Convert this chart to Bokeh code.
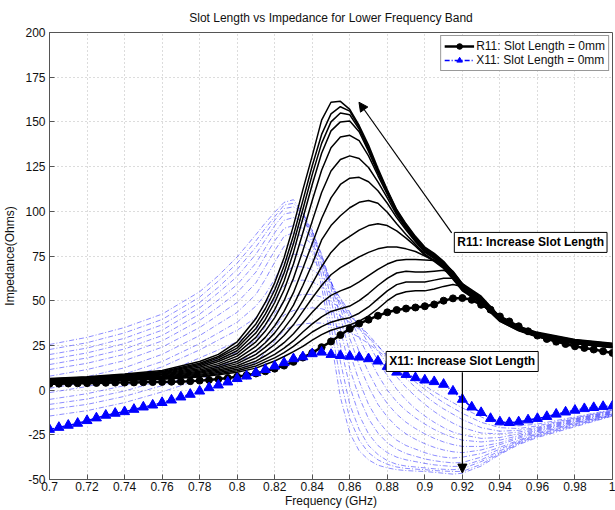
from bokeh.plotting import figure
from bokeh.models import Label, Arrow, NormalHead, Range1d, FixedTicker, PrintfTickFormatter
from bokeh.embed import file_html
from bokeh.resources import INLINE

FONT = "Liberation Sans"

# ---------------- data ----------------
x_ticks = [0.7, 0.72, 0.74, 0.76, 0.78, 0.8, 0.82, 0.84, 0.86, 0.88, 0.9, 0.92, 0.94, 0.96, 0.98, 1.0]
y_ticks = [-50, -25, 0, 25, 50, 75, 100, 125, 150, 175, 200]

freq_fine = [0.700, 0.705, 0.710, 0.715, 0.720, 0.725, 0.730, 0.735, 0.740, 0.745,
             0.750, 0.755, 0.760, 0.765, 0.770, 0.775, 0.780, 0.785, 0.790, 0.795,
             0.800, 0.805, 0.810, 0.815, 0.820, 0.825, 0.830, 0.835, 0.840, 0.845,
             0.850, 0.855, 0.860, 0.865, 0.870, 0.875, 0.880, 0.885, 0.890, 0.895,
             0.900, 0.905, 0.910, 0.915, 0.920, 0.925, 0.930, 0.935, 0.940, 0.945,
             0.950, 0.955, 0.960, 0.965, 0.970, 0.975, 0.980, 0.985, 0.990, 0.995,
             1.000]

r11_base = [3.5, 3.6, 3.7, 3.8, 3.9, 4.0, 4.1, 4.2, 4.2, 4.3,
            4.4, 4.5, 4.6, 4.7, 4.8, 5.0, 5.3, 5.7, 6.2, 6.8,
            7.5, 8.3, 9.3, 10.5, 12.0, 13.7, 15.8, 18.2, 20.8, 24.0,
            27.2, 30.8, 34.3, 37.2, 39.4, 41.6, 43.5, 44.8, 45.6, 46.2,
            46.9, 47.9, 50.0, 51.3, 51.5, 50.5, 47.7, 45.0, 41.2, 38.4,
            35.7, 32.9, 30.5, 28.6, 27.1, 25.8, 24.5, 23.6, 22.7, 21.7,
            20.8]

x11_base = [-22.0, -20.9, -19.7, -18.6, -17.1, -15.6, -14.1, -13.0, -12.1, -10.8,
            -9.5, -8.4, -7.0, -5.6, -3.9, -2.4, -0.6, 1.3, 2.8, 4.5,
            6.4, 7.8, 9.7, 11.5, 13.4, 15.3, 17.5, 18.6, 20.3, 21.2,
            19.9, 19.3, 18.9, 18.4, 17.5, 16.2, 13.2, 10.0, 8.7, 6.9,
            5.6, 4.7, 3.2, -0.6, -5.2, -9.5, -12.6, -15.9, -17.8, -18.2,
            -17.8, -16.7, -15.9, -14.8, -13.5, -12.3, -11.3, -10.4, -9.8, -9.2,
            -8.9]

freq_c = [0.70, 0.72, 0.74, 0.76, 0.78, 0.79, 0.80, 0.81, 0.815, 0.82,
          0.825, 0.83, 0.835, 0.84, 0.845, 0.85, 0.855, 0.86, 0.865, 0.87,
          0.875, 0.88, 0.885, 0.89, 0.895, 0.90, 0.905, 0.91, 0.915, 0.92,
          0.93, 0.94, 0.95, 0.96, 0.98, 1.00]

# R11 for increasing slot length (s01 smallest ... s14 largest)
r11_s01 = [4.0, 4.6, 5.3, 6.0, 7.3, 8.6, 10.0, 12.3, 14.3, 16.3, 18.8, 21.5, 24.5, 28.0, 31.0, 33.5, 35.0, 36.5, 38.5, 41.5, 45.5, 50.0, 53.5, 55.0, 55.5, 55.5, 56.5, 58.0, 59.0, 58.0, 50.5, 40.0, 34.2, 30.7, 26.8, 24.6]
r11_s02 = [4.2, 4.8, 5.6, 6.3, 7.8, 9.2, 10.8, 13.5, 15.8, 18.0, 21.0, 24.5, 28.5, 32.5, 35.5, 38.0, 39.5, 40.5, 43.0, 46.5, 51.0, 55.5, 59.0, 60.5, 60.5, 60.5, 61.5, 62.5, 62.5, 59.5, 50.0, 39.5, 33.9, 30.4, 26.5, 24.3]
r11_s03 = [4.3, 5.0, 5.8, 6.6, 8.3, 9.8, 11.6, 14.8, 17.3, 20.0, 23.5, 27.5, 32.5, 37.0, 41.0, 44.0, 45.5, 47.0, 50.0, 54.0, 58.5, 62.5, 65.5, 66.5, 66.0, 66.0, 66.5, 67.0, 65.0, 59.0, 49.5, 39.0, 33.6, 30.1, 26.2, 24.0]
r11_s04 = [4.5, 5.1, 6.0, 6.9, 8.8, 10.5, 12.6, 16.2, 19.2, 22.5, 26.5, 31.5, 37.5, 43.5, 49.0, 53.0, 55.5, 57.5, 60.5, 64.0, 67.5, 70.5, 72.5, 73.0, 73.0, 72.8, 72.5, 71.0, 66.5, 59.5, 49.5, 38.8, 33.4, 29.9, 26.0, 23.8]
r11_s05 = [4.6, 5.3, 6.2, 7.2, 9.4, 11.2, 13.6, 18.0, 21.5, 25.5, 30.5, 36.5, 44.0, 51.5, 58.5, 64.5, 68.5, 71.5, 74.5, 77.0, 79.0, 80.0, 80.0, 79.0, 77.5, 75.0, 72.5, 69.0, 63.0, 56.0, 48.5, 38.4, 33.2, 29.7, 25.9, 23.7]
r11_s06 = [4.8, 5.6, 6.5, 7.6, 10.0, 12.0, 14.8, 20.0, 24.0, 28.5, 34.5, 41.5, 50.0, 59.5, 69.0, 77.0, 82.5, 86.0, 89.5, 92.0, 93.0, 92.0, 89.0, 85.0, 80.5, 75.5, 72.0, 68.0, 62.0, 55.5, 48.5, 38.6, 33.4, 29.9, 26.1, 23.9]
r11_s07 = [5.0, 5.8, 6.8, 8.0, 10.6, 12.8, 16.0, 22.0, 26.5, 32.0, 39.0, 47.5, 58.5, 70.5, 84.0, 92.0, 97.5, 102.0, 105.0, 106.0, 104.5, 99.5, 93.0, 87.0, 81.5, 76.0, 72.5, 68.5, 62.5, 56.0, 49.0, 38.9, 33.7, 30.2, 26.3, 24.1]
r11_s08 = [5.2, 6.0, 7.1, 8.4, 11.3, 13.8, 17.5, 24.5, 29.5, 36.0, 44.0, 54.5, 68.0, 82.0, 96.0, 107.5, 115.0, 118.5, 119.0, 116.5, 111.5, 104.5, 96.5, 89.5, 83.0, 77.0, 73.5, 69.0, 63.0, 56.5, 49.5, 39.2, 34.0, 30.5, 26.6, 24.4]
r11_s09 = [5.4, 6.3, 7.4, 8.8, 12.0, 14.8, 19.0, 27.0, 33.0, 40.5, 50.0, 62.5, 78.0, 94.5, 110.5, 122.5, 129.0, 131.0, 129.5, 124.5, 116.5, 107.5, 98.0, 90.5, 83.5, 77.5, 74.0, 69.5, 63.5, 57.0, 50.0, 39.5, 34.3, 30.8, 26.8, 24.7]
r11_s10 = [5.6, 6.6, 7.7, 9.2, 12.8, 16.0, 20.5, 29.5, 36.5, 45.0, 56.0, 70.5, 88.0, 106.0, 123.0, 135.5, 141.5, 142.5, 139.5, 131.0, 120.0, 109.5, 99.0, 91.0, 84.0, 78.0, 74.5, 70.0, 64.0, 57.5, 50.5, 39.8, 34.6, 31.1, 27.1, 25.0]
r11_s11 = [5.8, 6.8, 8.0, 9.6, 13.6, 17.0, 22.0, 32.0, 39.5, 49.0, 61.0, 77.0, 96.0, 115.0, 132.5, 145.0, 150.0, 150.5, 144.5, 133.5, 121.5, 110.5, 99.5, 91.5, 84.5, 78.5, 75.0, 70.5, 64.5, 58.0, 51.0, 40.1, 34.9, 31.4, 27.4, 25.3]
r11_s12 = [6.0, 7.0, 8.3, 10.0, 14.3, 18.0, 23.5, 34.5, 42.5, 52.5, 65.5, 82.0, 101.0, 120.5, 138.0, 150.0, 155.0, 154.0, 146.0, 134.5, 122.5, 111.0, 100.0, 92.0, 85.0, 79.0, 75.5, 71.0, 65.0, 58.5, 51.5, 40.4, 35.2, 31.7, 27.7, 25.6]
r11_s13 = [6.2, 7.2, 8.6, 10.4, 15.0, 18.8, 25.0, 37.0, 45.5, 56.0, 69.5, 86.5, 106.0, 125.5, 143.0, 154.5, 158.5, 156.0, 147.0, 135.5, 123.0, 111.5, 100.5, 92.5, 85.5, 79.5, 76.0, 71.5, 65.5, 59.0, 52.0, 40.7, 35.5, 32.0, 28.0, 25.9]
r11_s14 = [6.5, 7.5, 9.0, 11.0, 16.0, 20.0, 27.0, 40.0, 49.0, 60.0, 74.0, 92.0, 112.0, 131.0, 151.0, 161.0, 161.5, 157.0, 148.0, 137.0, 124.0, 112.0, 101.0, 93.0, 86.0, 80.0, 76.5, 72.0, 66.0, 59.5, 52.5, 41.0, 35.8, 32.3, 28.3, 26.2]

# X11 for increasing slot length (s01 smallest ... s14 largest)
x11_s01 = [-14.5, -11.5, -7.0, -1.0, 6.0, 9.5, 11.5, 15.5, 21.0, 27.5, 33.5, 36.0, 37.0, 37.5, 37.5, 36.5, 35.0, 32.5, 29.5, 26.0, 22.0, 18.0, 14.0, 10.0, 6.0, 2.5, -1.0, -4.0, -7.0, -10.0, -15.0, -19.5, -20.0, -19.0, -15.0, -10.9]
x11_s02 = [-10.8, -8.0, -3.5, 2.5, 10.0, 13.5, 16.0, 20.0, 27.0, 34.5, 42.0, 44.5, 45.5, 46.0, 45.5, 44.0, 41.5, 38.0, 34.0, 29.5, 24.5, 19.5, 14.5, 9.5, 4.5, 0.5, -3.5, -7.0, -10.0, -13.0, -18.0, -21.0, -21.5, -20.0, -15.5, -11.2]
x11_s03 = [-8.0, -5.0, -0.5, 5.5, 13.5, 17.5, 21.0, 28.0, 35.5, 43.0, 50.0, 52.5, 53.5, 53.5, 52.0, 49.5, 46.0, 41.5, 36.5, 31.0, 25.0, 18.5, 12.5, 6.5, 1.5, -3.0, -7.0, -10.5, -13.5, -16.5, -21.0, -23.0, -22.5, -20.8, -15.9, -11.5]
x11_s04 = [-5.2, -2.0, 2.5, 9.0, 18.0, 22.5, 27.0, 33.5, 42.5, 51.0, 58.5, 61.0, 61.5, 60.5, 58.0, 54.0, 49.0, 43.0, 36.5, 29.5, 22.0, 14.5, 7.5, 1.5, -3.5, -8.0, -12.0, -15.5, -18.5, -21.0, -24.0, -24.5, -23.5, -21.3, -16.2, -11.8]
x11_s05 = [-1.4, 2.0, 6.5, 13.0, 22.5, 28.0, 33.5, 40.5, 48.0, 57.0, 66.0, 69.0, 69.0, 67.5, 63.5, 58.0, 51.5, 43.5, 35.0, 26.0, 16.5, 8.0, 0.5, -5.5, -10.5, -14.5, -18.0, -21.0, -23.5, -25.0, -27.0, -26.5, -24.5, -21.8, -16.6, -12.1]
x11_s06 = [1.0, 4.5, 9.0, 16.0, 26.0, 32.0, 38.0, 47.0, 53.5, 62.0, 72.0, 76.0, 75.5, 73.0, 67.5, 60.0, 51.0, 40.5, 29.5, 18.5, 8.5, 0.0, -6.5, -11.5, -15.5, -19.0, -22.0, -24.5, -26.5, -28.0, -29.0, -28.0, -25.5, -22.3, -17.0, -12.4]
x11_s07 = [4.1, 7.5, 12.5, 20.0, 30.5, 37.0, 43.5, 53.5, 62.0, 71.5, 80.5, 82.0, 81.0, 77.0, 70.0, 60.5, 48.5, 35.0, 21.5, 10.0, 0.0, -7.5, -13.5, -18.0, -21.5, -24.5, -27.0, -29.0, -30.5, -31.5, -31.5, -29.5, -26.3, -22.8, -17.4, -12.7]
x11_s08 = [7.8, 11.5, 16.5, 24.0, 35.0, 42.0, 49.0, 60.0, 69.0, 78.0, 86.0, 88.0, 86.0, 81.5, 73.0, 61.0, 46.0, 29.0, 14.0, 2.0, -8.0, -15.0, -20.5, -24.5, -27.5, -30.0, -32.0, -33.5, -34.5, -35.0, -33.5, -30.5, -27.0, -23.3, -17.8, -13.0]
x11_s09 = [11.5, 15.0, 20.0, 27.5, 39.0, 46.5, 54.5, 66.0, 75.0, 83.5, 90.5, 92.0, 90.5, 85.5, 75.5, 60.0, 41.0, 21.0, 5.0, -8.0, -17.0, -23.5, -28.0, -31.0, -33.0, -35.0, -36.5, -37.5, -38.0, -37.5, -35.5, -32.0, -28.0, -24.0, -18.2, -13.3]
x11_s10 = [14.3, 18.0, 23.0, 30.5, 42.5, 50.5, 59.0, 71.0, 79.5, 88.0, 95.0, 96.5, 94.5, 88.5, 76.0, 57.0, 34.0, 12.0, -4.0, -16.0, -24.0, -29.5, -33.0, -35.5, -37.0, -38.5, -39.5, -40.2, -40.7, -40.5, -37.5, -33.0, -28.5, -24.5, -18.6, -13.6]
x11_s11 = [17.1, 20.8, 26.0, 33.5, 46.0, 54.5, 63.5, 76.0, 84.0, 92.0, 98.5, 99.5, 97.0, 89.5, 74.0, 51.0, 25.0, 2.0, -14.0, -24.5, -31.0, -35.0, -37.5, -39.0, -40.0, -41.0, -41.8, -42.3, -42.7, -42.5, -39.0, -34.0, -29.0, -25.0, -19.0, -13.8]
x11_s12 = [19.9, 23.5, 29.0, 36.5, 49.0, 57.5, 67.5, 80.0, 87.5, 95.0, 101.5, 102.5, 99.0, 89.0, 70.0, 44.0, 16.0, -8.0, -22.0, -31.0, -36.0, -39.5, -41.5, -42.5, -43.0, -43.5, -44.0, -44.3, -44.5, -44.0, -40.0, -35.0, -29.5, -25.5, -19.5, -14.0]
x11_s13 = [22.7, 26.5, 32.0, 39.5, 52.0, 61.0, 71.0, 83.5, 90.5, 97.0, 103.5, 104.5, 99.5, 86.0, 64.0, 36.0, 6.0, -16.0, -28.0, -35.0, -39.0, -41.5, -43.0, -43.8, -44.2, -44.5, -45.0, -45.3, -45.5, -45.5, -41.5, -35.5, -30.0, -26.0, -20.0, -14.3]
x11_s14 = [25.5, 29.5, 35.0, 42.5, 55.0, 64.0, 74.5, 87.0, 93.5, 99.5, 105.0, 106.5, 99.0, 82.0, 58.0, 28.0, -4.0, -24.0, -34.0, -39.0, -42.0, -43.5, -44.5, -45.0, -45.3, -45.5, -46.0, -46.5, -47.0, -46.5, -42.5, -36.0, -30.5, -26.5, -20.5, -14.5]

r11_family = [r11_s01, r11_s02, r11_s03, r11_s04, r11_s05, r11_s06, r11_s07,
              r11_s08, r11_s09, r11_s10, r11_s11, r11_s12, r11_s13, r11_s14]
x11_family = [x11_s01, x11_s02, x11_s03, x11_s04, x11_s05, x11_s06, x11_s07,
              x11_s08, x11_s09, x11_s10, x11_s11, x11_s12, x11_s13, x11_s14]

# ---------------- figure ----------------
p = figure(width=615, height=510, x_range=Range1d(0.7, 1.0), y_range=Range1d(-50, 200),
           output_backend="svg", toolbar_location=None,
           min_border_left=49, min_border_right=3, min_border_top=32, min_border_bottom=29,
           title="Slot Length vs Impedance for Lower Frequency Band")
p.background_fill_color = "white"
p.border_fill_color = "white"
p.outline_line_color = "#555555"
p.outline_line_width = 1

p.title.text_font = FONT
p.title.text_font_size = "12px"
p.title.text_font_style = "normal"
p.title.text_color = "#111111"
p.title.align = "center"
p.title.vertical_align = "middle"
p.title.standoff = 14

for ax in (p.xaxis[0], p.yaxis[0]):
    ax.major_tick_in = 5
    ax.major_tick_out = 0
    ax.minor_tick_line_color = None
    ax.axis_line_color = "#555555"
    ax.major_tick_line_color = "#555555"
    ax.major_label_text_font = FONT
    ax.major_label_text_font_size = "12px"
    ax.major_label_text_color = "#111111"
    ax.axis_label_text_font = FONT
    ax.axis_label_text_font_size = "12px"
    ax.axis_label_text_font_style = "normal"
    ax.axis_label_text_color = "#111111"
    ax.formatter = PrintfTickFormatter(format="%g")

p.xaxis.ticker = FixedTicker(ticks=x_ticks)
p.yaxis.ticker = FixedTicker(ticks=y_ticks)
p.xaxis.axis_label = "Frequency (GHz)"
p.yaxis.axis_label = "Impedance(Ohms)"
p.xaxis.major_label_standoff = 2
p.xaxis.axis_label_standoff = 0
p.yaxis.major_label_standoff = 4
p.yaxis.axis_label_standoff = 5

p.grid.grid_line_color = "#b8b8b8"
p.grid.grid_line_dash = "1 3"
p.grid.grid_line_width = 1

# X11 family (dash-dot, thin blue)
for ys in x11_family:
    p.line(freq_c, ys, line_color="#2b2bff", line_alpha=0.6, line_width=0.9, line_dash="5 2 1 2")

# R11 family (solid black)
for ys in r11_family:
    p.line(freq_c, ys, line_color="black", line_width=1.5)

# baselines
lab_r = "R11: Slot Length = 0mm"
lab_x = "X11: Slot Length = 0mm"
p.line(freq_fine, r11_base, line_color="black", line_width=2.5, legend_label=lab_r)
p.scatter(freq_fine, r11_base, marker="circle", size=7, fill_color="black", line_color="black", legend_label=lab_r)
p.line(freq_fine, x11_base, line_color="blue", line_width=1.5, line_dash="5 2 1 2", legend_label=lab_x)
p.scatter(freq_fine, x11_base, marker="triangle", size=10, fill_color="blue", line_color="blue", legend_label=lab_x)

lg = p.legend[0]
lg.location = "top_right"
lg.margin = 3
lg.padding = 3
lg.spacing = 0
lg.glyph_width = 30
lg.glyph_height = 14
lg.label_height = 14
lg.label_standoff = 2
lg.label_text_font = FONT
lg.label_text_font_size = "12px"
lg.label_text_color = "#111111"
lg.border_line_color = "#333333"
lg.border_line_width = 1
lg.background_fill_color = "white"
lg.background_fill_alpha = 1.0

# ---------------- annotations ----------------
p.add_layout(Arrow(end=NormalHead(size=9, fill_color="black", line_color="black"),
                   x_start=0.9143, y_start=87.9, x_end=0.8649, y_end=161.0,
                   line_color="black", line_width=1.2))
p.add_layout(Arrow(end=NormalHead(size=9, fill_color="black", line_color="black"),
                   x_start=0.92, y_start=10.0, x_end=0.92, y_end=-46.4,
                   line_color="black", line_width=1.2))

for tx, lx, ly in (("R11: Increase Slot Length", 0.9564, 82.6),
                   ("X11: Increase Slot Length", 0.9199, 16.0)):
    p.add_layout(Label(x=lx, y=ly, text=tx, text_align="center", text_baseline="middle",
                       text_font=FONT, text_font_size="12px", text_font_style="bold",
                       text_color="black", border_line_color="black", border_line_width=1,
                       background_fill_color="white", background_fill_alpha=1.0, padding=3))

open("out.html", "w").write(file_html(p, INLINE))
